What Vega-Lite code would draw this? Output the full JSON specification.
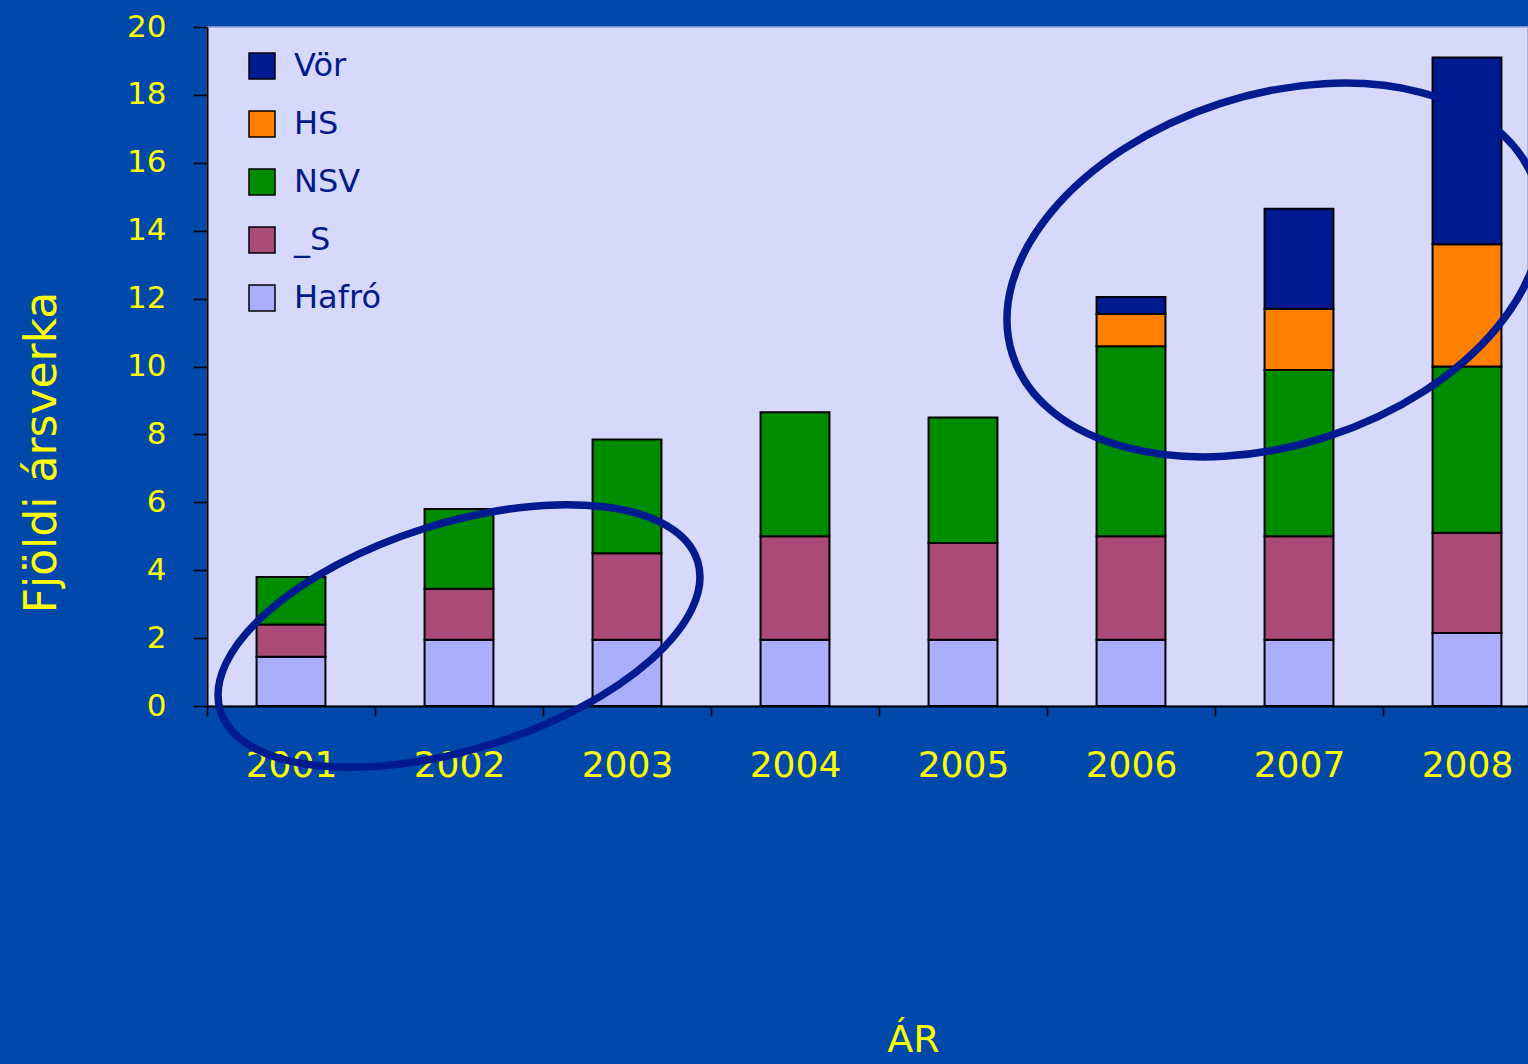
{
  "$schema": "https://vega.github.io/schema/vega-lite/v6.json",
  "autosize": {"type": "none"},
  "padding": {"left": 207, "top": 27, "right": 0, "bottom": 358},
  "width": 1321,
  "height": 679,
  "background": "#0048AA",
  "config": {
    "view": {"fill": "#D6D8FC", "stroke": "#9AA6D6", "strokeWidth": 1.5},
    "font": "DejaVu Sans"
  },
  "datasets": {
    "bars": [
      {"year": "2001", "series": "Hafró", "value": 1.45, "k": 1},
      {"year": "2001", "series": "_S", "value": 0.95, "k": 2},
      {"year": "2001", "series": "NSV", "value": 1.4, "k": 3},
      {"year": "2002", "series": "Hafró", "value": 1.95, "k": 1},
      {"year": "2002", "series": "_S", "value": 1.5, "k": 2},
      {"year": "2002", "series": "NSV", "value": 2.35, "k": 3},
      {"year": "2003", "series": "Hafró", "value": 1.95, "k": 1},
      {"year": "2003", "series": "_S", "value": 2.55, "k": 2},
      {"year": "2003", "series": "NSV", "value": 3.35, "k": 3},
      {"year": "2004", "series": "Hafró", "value": 1.95, "k": 1},
      {"year": "2004", "series": "_S", "value": 3.05, "k": 2},
      {"year": "2004", "series": "NSV", "value": 3.65, "k": 3},
      {"year": "2005", "series": "Hafró", "value": 1.95, "k": 1},
      {"year": "2005", "series": "_S", "value": 2.85, "k": 2},
      {"year": "2005", "series": "NSV", "value": 3.7, "k": 3},
      {"year": "2006", "series": "Hafró", "value": 1.95, "k": 1},
      {"year": "2006", "series": "_S", "value": 3.05, "k": 2},
      {"year": "2006", "series": "NSV", "value": 5.6, "k": 3},
      {"year": "2006", "series": "HS", "value": 0.95, "k": 4},
      {"year": "2006", "series": "Vör", "value": 0.5, "k": 5},
      {"year": "2007", "series": "Hafró", "value": 1.95, "k": 1},
      {"year": "2007", "series": "_S", "value": 3.05, "k": 2},
      {"year": "2007", "series": "NSV", "value": 4.9, "k": 3},
      {"year": "2007", "series": "HS", "value": 1.8, "k": 4},
      {"year": "2007", "series": "Vör", "value": 2.95, "k": 5},
      {"year": "2008", "series": "Hafró", "value": 2.15, "k": 1},
      {"year": "2008", "series": "_S", "value": 2.95, "k": 2},
      {"year": "2008", "series": "NSV", "value": 4.9, "k": 3},
      {"year": "2008", "series": "HS", "value": 3.6, "k": 4},
      {"year": "2008", "series": "Vör", "value": 5.5, "k": 5}
    ],
    "rings": [
      {"e": 1, "i": 1, "pos": 2.920, "val": 4.271},
      {"e": 1, "i": 2, "pos": 2.735, "val": 5.320},
      {"e": 1, "i": 3, "pos": 2.361, "val": 5.867},
      {"e": 1, "i": 4, "pos": 1.857, "val": 5.841},
      {"e": 1, "i": 5, "pos": 1.298, "val": 5.237},
      {"e": 1, "i": 6, "pos": 0.770, "val": 4.150},
      {"e": 1, "i": 7, "pos": 0.354, "val": 2.745},
      {"e": 1, "i": 8, "pos": 0.111, "val": 1.237},
      {"e": 1, "i": 9, "pos": 0.080, "val": -0.147},
      {"e": 1, "i": 10, "pos": 0.265, "val": -1.196},
      {"e": 1, "i": 11, "pos": 0.639, "val": -1.744},
      {"e": 1, "i": 12, "pos": 1.143, "val": -1.717},
      {"e": 1, "i": 13, "pos": 1.702, "val": -1.113},
      {"e": 1, "i": 14, "pos": 2.230, "val": -0.027},
      {"e": 1, "i": 15, "pos": 2.646, "val": 1.378},
      {"e": 1, "i": 16, "pos": 2.889, "val": 2.887},
      {"e": 2, "i": 1, "pos": 7.908, "val": 15.346},
      {"e": 2, "i": 2, "pos": 7.666, "val": 17.031},
      {"e": 2, "i": 3, "pos": 7.224, "val": 18.077},
      {"e": 2, "i": 4, "pos": 6.650, "val": 18.330},
      {"e": 2, "i": 5, "pos": 6.029, "val": 17.744},
      {"e": 2, "i": 6, "pos": 5.457, "val": 16.409},
      {"e": 2, "i": 7, "pos": 5.023, "val": 14.536},
      {"e": 2, "i": 8, "pos": 4.790, "val": 12.406},
      {"e": 2, "i": 9, "pos": 4.795, "val": 10.339},
      {"e": 2, "i": 10, "pos": 5.036, "val": 8.654},
      {"e": 2, "i": 11, "pos": 5.478, "val": 7.608},
      {"e": 2, "i": 12, "pos": 6.052, "val": 7.355},
      {"e": 2, "i": 13, "pos": 6.673, "val": 7.941},
      {"e": 2, "i": 14, "pos": 7.245, "val": 9.275},
      {"e": 2, "i": 15, "pos": 7.679, "val": 11.149},
      {"e": 2, "i": 16, "pos": 7.913, "val": 13.278}
    ]
  },
  "layer": [
    {
      "data": {"name": "bars"},
      "mark": {"type": "bar", "stroke": "#000000", "strokeWidth": 2, "width": {"band": 0.41}},
      "encoding": {
        "x": {
          "field": "year",
          "type": "ordinal",
          "scale": {"range": [0, 1344], "paddingInner": 0, "paddingOuter": 0},
          "axis": {
            "title": "ÁR",
            "titleColor": "#FFFF00",
            "titleFontSize": 38,
            "titleFontWeight": "normal",
            "titleFont": "DejaVu Sans",
            "titleX": 706,
            "titleY": 345,
            "titleBaseline": "alphabetic",
            "titleAlign": "center",
            "labelColor": "#FFFF00",
            "labelFontSize": 36,
            "labelFont": "DejaVu Sans",
            "labelAngle": 0,
            "labelPadding": 32,
            "tickBand": "extent",
            "tickColor": "#000000",
            "tickSize": 10,
            "tickWidth": 1.5,
            "domainColor": "#000000",
            "domainWidth": 2
          }
        },
        "y": {
          "field": "value",
          "type": "quantitative",
          "stack": "zero",
          "scale": {"domain": [0, 20], "nice": false},
          "axis": {
            "title": "Fjöldi ársverka",
            "titleColor": "#FFFF00",
            "titleFontSize": 44,
            "titleFontWeight": "normal",
            "titleFont": "DejaVu Sans",
            "titleAngle": -90,
            "titleX": -152,
            "titleY": 425,
            "titleAlign": "center",
            "titleBaseline": "alphabetic",
            "values": [0, 2, 4, 6, 8, 10, 12, 14, 16, 18, 20],
            "labelColor": "#FFFF00",
            "labelFontSize": 31,
            "labelFont": "DejaVu Sans",
            "labelPadding": 27,
            "tickColor": "#000000",
            "tickSize": 14,
            "tickWidth": 1.5,
            "domainColor": "#000000",
            "domainWidth": 2,
            "grid": false
          }
        },
        "color": {
          "field": "series",
          "type": "nominal",
          "scale": {
            "domain": ["Vör", "HS", "NSV", "_S", "Hafró"],
            "range": ["#001A90", "#FF8000", "#008C00", "#AA4A78", "#AAAEFF"]
          },
          "legend": {
            "orient": "none",
            "legendX": 39,
            "legendY": 23,
            "title": null,
            "symbolType": "square",
            "symbolSize": 676,
            "symbolStrokeColor": "#000000",
            "symbolStrokeWidth": 1.5,
            "labelFontSize": 32,
            "labelFont": "DejaVu Sans",
            "labelColor": "#001A8C",
            "labelOffset": 16,
            "rowPadding": 26
          }
        },
        "order": {"field": "k", "type": "quantitative"}
      }
    },
    {
      "data": {"name": "rings"},
      "mark": {"type": "line", "interpolate": "cardinal-closed", "stroke": "#001A90", "strokeWidth": 7.5},
      "encoding": {
        "x": {"field": "pos", "type": "quantitative", "scale": {"domain": [0, 8], "range": [0, 1344], "nice": false, "zero": false}, "axis": null},
        "y": {"field": "val", "type": "quantitative", "scale": {"domain": [0, 20], "nice": false}, "axis": null},
        "detail": {"field": "e", "type": "nominal"},
        "order": {"field": "i", "type": "quantitative"}
      }
    }
  ],
  "resolve": {"scale": {"x": "independent"}, "axis": {"x": "independent", "y": "independent"}}
}
